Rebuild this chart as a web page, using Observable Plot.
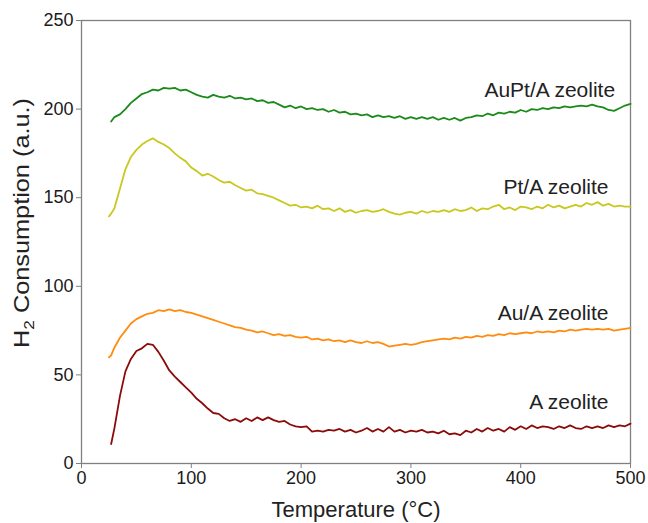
<!DOCTYPE html>
<html><head><meta charset="utf-8">
<script src="https://cdn.jsdelivr.net/npm/d3@7"></script>
<script src="https://cdn.jsdelivr.net/npm/@observablehq/plot@0.6"></script>
<style>body{margin:0;background:#fff}</style>
</head><body><div id="chart"></div>
<script>
const temps = [25,27,30,35,40,45,50,55,60,65,70,75,80,85,90,95,100,105,110,115,120,125,130,135,140,145,150,155,160,165,170,175,180,185,190,195,200,205,210,215,220,225,230,235,240,245,250,255,260,265,270,275,280,285,290,295,300,305,310,315,320,325,330,335,340,345,350,355,360,365,370,375,380,385,390,395,400,405,410,415,420,425,430,435,440,445,450,455,460,465,470,475,480,485,490,495,500];

const auptZeolite = [null,193,195.5,197,200,203.5,206,208.5,209.5,211,210.5,212,211.5,212,210.5,211,209.5,208,207,206.5,208,207,206.5,207.5,206,206.5,205.5,206,204.5,205,203.5,204,202.5,201,202,200.5,201.5,200,200.5,199.5,200,198.5,199.5,198,198.5,197,197.5,196.5,197,195.5,196.5,195.5,196,195,196,194.5,195.5,194.5,195.5,194.5,195.5,194,195,194,195,193.5,195,195.5,196.5,196,197.5,196.5,198,197.5,198.5,198,199.5,198.5,200,199.5,200.5,200,201,200.5,201.5,201,201.5,202,201.5,202.5,201.5,201,199.5,199,200.5,202,203];

const ptZeolite = [139.5,141,144,155,166,173,177,180,182,183.5,181.5,180,178,175,172.5,170.5,167,165,162.5,163.5,162,160,158.5,159,157,155.5,154,154.5,152.5,152,151,150,148.5,147,145.5,146,144.5,145,144,145.5,143.5,144,142.5,144,142,143,141.5,142.5,143,142,142.5,143.5,142,141,140.5,141.5,142,141,142.5,141.5,142.5,142,143,142,143.5,142.5,143,144.5,142.5,144,143.5,145,146,143.5,144.5,143,145,144.5,143.5,145,144,146,144.5,145.5,144,145,146,145,147,146,147.5,145.5,146.5,145,145.5,145,145];

const auZeolite = [60,61,65.5,71,75,79,81.5,83,84.5,85,86.5,86,87,86,86.5,85.5,85,84,83,82,81,80,79,78,77,76.5,75.5,75,74,74.5,73.5,72.5,73,72,72.5,71.5,71,71.5,70,70.5,69.5,70,69,69.5,68.5,69.5,68.5,68,69,68,68.5,67.5,66,66.5,67,67.5,67,67.5,68.5,69,69.5,70,70.5,70,71,70.5,71.5,71,72,71.5,72.5,72,73,72.5,73.5,73,73.5,74,73.5,74.5,74,74.5,74,75,74.5,75.5,75,75.5,76,75.5,76,75.5,76,75,75.5,76,76.5];

const aZeolite = [null,11,20,38,52,59,63.5,65,67.5,67,63,58,52.5,49,46,43,40,36.5,34,31,28.5,28,25.5,24,25,23.5,25.5,24,26,24.5,26,24.5,23.5,24,22,21,20.5,21,18,18.5,18,19,18.5,19.5,18,19,17.5,18.5,20,18,19.5,18,20.5,18,19,17.5,18.5,18,19,17.5,18,17,18.5,16.5,17,16,18.5,17.5,19.5,18,20,18.5,19.5,18,20.5,19,21,19.5,21.5,20,21,20.5,19.5,21,20,21.5,20,19.5,21,20,21,20,21.5,20.5,21.5,21,22.5];

const seriesNames = ["AuPt/A zeolite", "Pt/A zeolite", "Au/A zeolite", "A zeolite"];
const seriesColors = ["#1a8a1a", "#c8c81e", "#ff8c0f", "#8b0a0a"];
const labelTemps = [486, 480, 480, 480];
const labelValues = [210.5, 156, 85, 34.5];
const xTicks = [0, 100, 200, 300, 400, 500];
const yTicks = [0, 50, 100, 150, 200, 250];
const xTitle = "Temperature (°C)";
const yTitle = "H2 Consumption (a.u.)";

const seriesValues = [auptZeolite, ptZeolite, auZeolite, aZeolite];
const rows = [];
seriesNames.forEach((name, k) => {
  temps.forEach((t, i) => {
    const v = seriesValues[k][i];
    if (v != null) rows.push({T: t, v, s: name});
  });
});
const labels = seriesNames.map((name, k) => ({name, T: labelTemps[k], v: labelValues[k]}));

const chart = Plot.plot({
  width: 648, height: 523,
  marginLeft: 81, marginRight: 18, marginTop: 20, marginBottom: 60,
  style: {fontFamily: "'Liberation Sans', Arial, sans-serif", fontSize: "18px", color: "#1a1a1a", background: "#fff"},
  x: {domain: [0, 500]},
  y: {domain: [0, 250]},
  color: {domain: seriesNames, range: seriesColors},
  marks: [
    Plot.frame({stroke: "#808080", strokeWidth: 1.3}),
    Plot.axisX({ticks: xTicks, tickSize: 5, tickPadding: 3, stroke: "#808080", label: null, fontSize: 18}),
    Plot.axisY({ticks: yTicks, tickSize: 5, tickPadding: 3, stroke: "#808080", label: null, fontSize: 18}),
    Plot.lineY(rows, {x: "T", y: "v", z: "s", stroke: "s", strokeWidth: 1.8}),
    Plot.text(labels, {x: "T", y: "v", text: "name", textAnchor: "end", fontSize: 21, fill: "#222"}),
    Plot.text([xTitle], {frameAnchor: "bottom", lineAnchor: "middle", textAnchor: "middle", dy: 46, fontSize: 22, fill: "#222"}),
    Plot.text([yTitle], {frameAnchor: "left", lineAnchor: "middle", textAnchor: "middle", rotate: -90, dx: -60, dy: -19, fontSize: 22, fill: "#222"})
  ]
});

d3.select(chart).selectAll("text").filter(function() { return this.textContent === yTitle; }).each(function() {
  const t = d3.select(this);
  t.text(null);
  t.attr("textLength", 250).attr("lengthAdjust", "spacingAndGlyphs");
  t.append("tspan").text("H");
  t.append("tspan").attr("font-size", 15).attr("dy", 5).text("2");
  t.append("tspan").attr("dy", -5).text(" Consumption (a.u.)");
});

document.getElementById("chart").append(chart);
</script>
</body></html>
